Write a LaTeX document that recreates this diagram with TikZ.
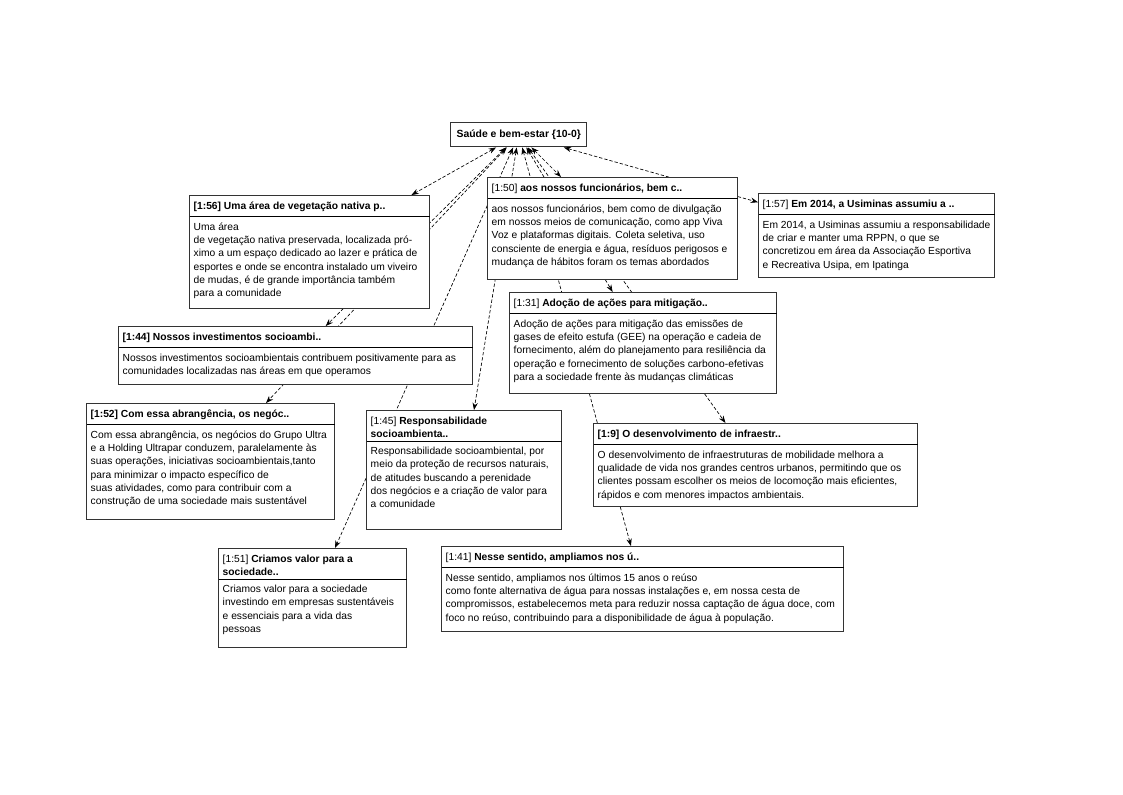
\documentclass[tikz,border=0pt]{standalone}
\usepackage{fontspec}
\setmainfont{Liberation Sans}
\usetikzlibrary{arrows.meta,backgrounds}

% Contenu d'une fiche : largeur, hauteur (en px), titre, texte
\newcommand{\fiche}[4]{%
  \parbox[c][0.75\dimexpr#2pt\relax][t]{0.75\dimexpr#1pt\relax}{%
    \fontsize{7.7}{10}\selectfont
    \parindent=0pt \leftskip=3pt \rightskip=0pt plus 1fil
    \vspace*{3.2pt}\strut #3\par
    \vspace{2.2pt}\hrule height 0.7pt\vspace{2.6pt}%
    \strut #4\par}}

\begin{document}
\begin{tikzpicture}[x=0.75pt,y=-0.75pt,
    box style/.style={draw=black!80,line width=1.1pt,fill=white,inner sep=0pt,anchor=north west},
    link style/.style={{Stealth[length=5.5pt,width=4pt]}-{Stealth[length=5.5pt,width=4pt]},
      line width=0.5pt,dash pattern=on 2.5pt off 1.5pt}]
    \useasboundingbox (0,0) rectangle (1123,794);

    % Code principal
    \node[box style,minimum width=102pt,minimum height=18pt,anchor=north west] (root) at (450,122)
      {\fontsize{7.8}{10}\selectfont\bfseries Saúde e bem-estar \{10-0\}};

    % Citations
    \node[box style] (n56) at (189,195) {\fiche{240}{113}
      {\textbf{[1:56] Uma área de vegetação nativa p..}}
      {Uma área\\
       de vegetação nativa preservada, localizada pró-\\
       ximo a um espaço dedicado ao lazer e prática de\\
       esportes e onde se encontra instalado um viveiro\\
       de mudas, é de grande importância também\\
       para a comunidade}};
    \node[box style] (n50) at (487,177) {\fiche{250}{102}
      {[1:50] \textbf{aos nossos funcionários, bem c..}}
      {aos nossos funcionários, bem como de divulgação\\
       em nossos meios de comunicação, como app Viva\\
       Voz e plataformas digitais. Coleta seletiva, uso\\
       consciente de energia e água, resíduos perigosos e\\
       mudança de hábitos foram os temas abordados}};
    \node[box style] (n57) at (758,193) {\fiche{236}{84}
      {[1:57] \textbf{Em 2014, a Usiminas assumiu a ..}}
      {Em 2014, a Usiminas assumiu a responsabilidade\\
       de criar e manter uma RPPN, o que se\\
       concretizou em área da Associação Esportiva\\
       e Recreativa Usipa, em Ipatinga}};
    \node[box style] (n44) at (118,326) {\fiche{354}{58}
      {\textbf{[1:44] Nossos investimentos socioambi..}}
      {Nossos investimentos socioambientais contribuem positivamente  para as\\
       comunidades localizadas nas áreas em que operamos}};
    \node[box style] (n31) at (509,292) {\fiche{267}{101}
      {[1:31] \textbf{Adoção de ações para mitigação..}}
      {Adoção de ações para mitigação das emissões de\\
       gases de efeito estufa (GEE) na operação e cadeia de\\
       fornecimento, além do planejamento para resiliência da\\
       operação e fornecimento de soluções carbono-efetivas\\
       para a sociedade frente às mudanças climáticas}};
    \node[box style] (n52) at (86,403) {\fiche{248}{116}
      {\textbf{[1:52] Com essa abrangência, os negóc..}}
      {Com essa abrangência, os negócios do Grupo Ultra\\
       e a Holding Ultrapar conduzem, paralelamente às\\
       suas operações, iniciativas socioambientais,tanto\\
       para minimizar o impacto específico de\\
       suas atividades, como para contribuir com a\\
       construção de uma sociedade mais sustentável}};
    \node[box style] (n45) at (366,410) {\fiche{195}{119}
      {[1:45] \textbf{Responsabilidade\\socioambienta..}}
      {Responsabilidade socioambiental, por\\
       meio da proteção de recursos naturais,\\
       de atitudes buscando a perenidade\\
       dos negócios e a criação de valor para\\
       a comunidade}};
    \node[box style] (n9) at (593,423) {\fiche{324}{83}
      {\textbf{[1:9] O desenvolvimento de infraestr..}}
      {O desenvolvimento de infraestruturas de mobilidade melhora a\\
       qualidade de vida nos grandes centros urbanos, permitindo que os\\
       clientes possam escolher os meios de locomoção mais eficientes,\\
       rápidos e com menores impactos ambientais.}};
    \node[box style] (n51) at (218,548) {\fiche{188}{99}
      {[1:51] \textbf{Criamos valor para a\\sociedade..}}
      {Criamos valor para a sociedade\\
       investindo em empresas sustentáveis\\
       e essenciais para a vida das\\
       pessoas}};
    \node[box style] (n41) at (441,546) {\fiche{402}{85}
      {[1:41] \textbf{Nesse sentido, ampliamos nos ú..}}
      {Nesse sentido, ampliamos nos últimos 15 anos o reúso\\
       como fonte alternativa de água para nossas instalações e, em nossa cesta de\\
       compromissos, estabelecemos meta para reduzir nossa captação de água doce, com\\
       foco no reúso, contribuindo para a disponibilidade de água à população.}};

    % Liens derriere les fiches
    \begin{scope}[on background layer]
      \fill[white] (0,0) rectangle (1123,794);
      \draw[link style] (root) -- (n56);
      \draw[link style] (root) -- (n44);
      \draw[link style] (root) -- (n52);
      \draw[link style] (root) -- (n51);
      \draw[link style] (root) -- (n45);
      \draw[link style] (root) -- (n41);
      \draw[link style] (root) -- (n31);
      \draw[link style] (root) -- (n9);
      \draw[link style] (root) -- (n50);
      \draw[link style] (root) -- (n57);
    \end{scope}
\end{tikzpicture}
\end{document}
